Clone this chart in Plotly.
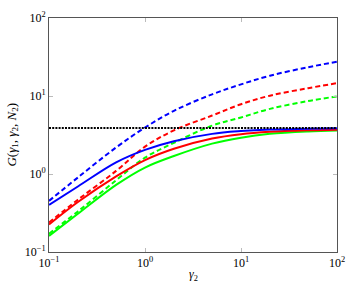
import plotly.graph_objects as go

gamma2 = [0.1, 0.2, 0.5, 1, 2, 5, 10, 20, 50, 100]

blue_dashed = [0.452, 0.902, 2.19, 3.94, 6.46, 10.5, 14.1, 18.2, 23.4, 27.5]
red_dashed = [0.239, 0.468, 1.096, 2.24, 3.63, 5.62, 7.85, 10.1, 12.6, 14.6]
green_dashed = [0.172, 0.331, 0.832, 1.62, 2.51, 4.17, 5.31, 6.84, 8.61, 9.89]

blue_solid = [0.402, 0.692, 1.41, 2.04, 2.63, 3.27, 3.55, 3.72, 3.80, 3.85]
red_solid = [0.225, 0.437, 0.933, 1.51, 2.11, 2.85, 3.24, 3.47, 3.63, 3.70]
green_solid = [0.161, 0.309, 0.724, 1.21, 1.70, 2.45, 2.92, 3.27, 3.51, 3.61]

limit_x = [0.1, 100]
limit_y = [3.88, 3.88]

tick_vals = [0.1, 1, 10, 100]
tick_text = ["10<sup>\u22121</sup>", "10<sup>0</sup>", "10<sup>1</sup>", "10<sup>2</sup>"]

FONT = "Liberation Serif"

fig = go.Figure()

series = [
    (blue_dashed, "#0000ff", "5px,3px"),
    (red_dashed, "#ff0000", "5px,3px"),
    (green_dashed, "#00ff00", "5px,3px"),
    (green_solid, "#00ff00", "solid"),
    (red_solid, "#ff0000", "solid"),
    (blue_solid, "#0000ff", "solid"),
]
for ys, col, dash in series:
    fig.add_trace(go.Scatter(
        x=gamma2, y=ys, mode="lines",
        line=dict(color=col, width=2, dash=dash, shape="spline", smoothing=1.0),
        showlegend=False, hoverinfo="skip",
    ))

fig.add_trace(go.Scatter(
    x=limit_x, y=limit_y, mode="lines",
    line=dict(color="#000000", width=2, dash="2px,1.2px"),
    showlegend=False, hoverinfo="skip",
))

axis_common = dict(
    type="log",
    range=[-1, 2],
    tickvals=tick_vals,
    ticktext=tick_text,
    ticks="inside",
    ticklen=4,
    tickcolor="#bbbbbb",
    tickwidth=1,
    showline=True,
    linecolor="#555555",
    linewidth=1,
    mirror="ticks",
    showgrid=False,
    zeroline=False,
    tickfont=dict(family=FONT, size=12, color="#000000"),
)

fig.update_xaxes(**axis_common)
fig.update_yaxes(**axis_common)

fig.update_layout(
    width=355,
    height=289,
    margin=dict(l=49, r=14, t=10, b=37),
    paper_bgcolor="white",
    plot_bgcolor="white",
    font=dict(family=FONT, size=11, color="#000000"),
    annotations=[
        dict(text="<i>\u03b3</i><sub>2</sub>", x=0.5, y=-0.1, xref="paper", yref="paper",
             xanchor="center", yanchor="middle", showarrow=False,
             font=dict(family=FONT, size=12)),
        dict(text="<i>G</i>(<i>\u03b3</i><sub>1</sub>, <i>\u03b3</i><sub>2</sub>, <i>N</i><sub>2</sub>)",
             x=-0.13, y=0.5, xref="paper", yref="paper", textangle=-90,
             xanchor="center", yanchor="middle", showarrow=False,
             font=dict(family=FONT, size=13)),
    ],
)

fig.write_html(
    "out.html",
    config={"displayModeBar": False},
    post_script="document.body.style.margin='0';document.body.style.overflow='hidden';",
)
